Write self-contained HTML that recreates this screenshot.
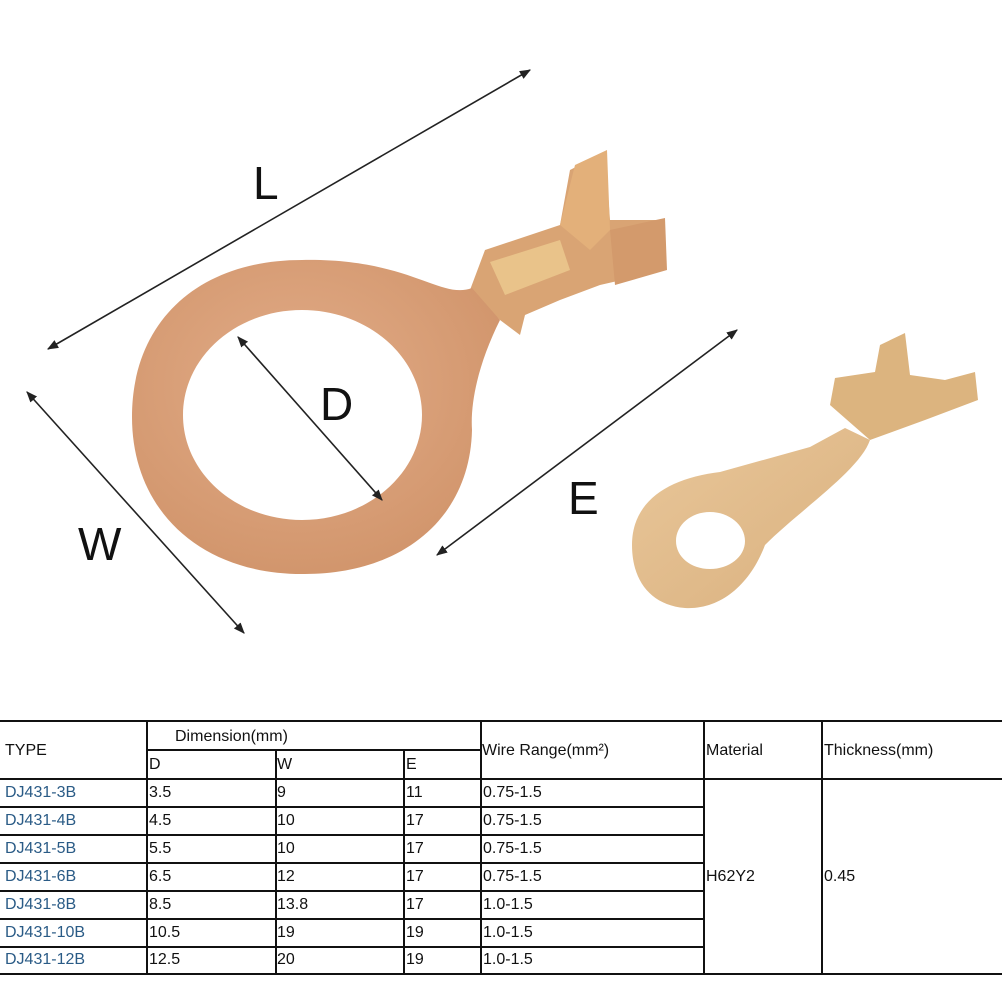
<!DOCTYPE html>
<html><head><meta charset="utf-8"><style>
body{margin:0;width:1002px;height:1002px;background:#fff;overflow:hidden;position:relative;font-family:"Liberation Sans","DejaVu Sans",sans-serif}
svg{position:absolute;left:0;top:0}
.t{position:absolute;font-size:16px;color:#111;white-space:nowrap}
.b{color:#2a5b86}
</style></head><body>
<svg width="1002" height="1002" viewBox="0 0 1002 1002">
<defs>
<marker id="a" viewBox="0 0 10 10" refX="9" refY="5" markerWidth="7" markerHeight="7" orient="auto-start-reverse"><path d="M0,1 L10,5 L0,9 Z" fill="#222"/></marker>
<radialGradient id="g1" cx="45%" cy="40%" r="70%"><stop offset="0" stop-color="#e2ac88"/><stop offset="1" stop-color="#cf9268"/></radialGradient>
<linearGradient id="g2" x1="0" y1="0" x2="1" y2="1"><stop offset="0" stop-color="#e9c79a"/><stop offset="1" stop-color="#d9b07e"/></linearGradient>
</defs>
<!-- big crimp -->
<path d="M470,290 L485,250 L560,225 L570,170 L605,152 L610,220 L665,220 L665,270 L600,285 L560,300 L525,315 L520,335 L500,320 Z" fill="#d9a474"/>
<path d="M560,225 L575,165 L607,150 L610,230 L590,250 Z" fill="#e3b07a"/>
<path d="M610,230 L665,218 L667,270 L615,285 Z" fill="#d39a6c"/>
<path d="M490,262 L560,240 L570,270 L505,295 Z" fill="#e9c38a"/>
<!-- big ring -->
<path fill-rule="evenodd" fill="url(#g1)" d="M302,260 C410,258 440,300 472,288 L500,320 C480,360 470,400 472,430 C470,520 400,575 302,574 C200,574 132,510 132,417 C132,320 200,260 302,260 Z M302,310 C236,310 183,357 183,415 C183,473 236,520 302,520 C368,520 422,473 422,415 C422,357 368,310 302,310 Z"/>
<!-- small crimp -->
<path d="M830,405 L835,378 L875,372 L880,345 L905,333 L910,375 L945,380 L975,372 L978,400 L925,420 L870,440 Z" fill="#dcb47f"/>
<!-- small ring -->
<path fill-rule="evenodd" fill="url(#g2)" d="M632,545 C632,500 670,478 720,472 L810,447 L845,428 L870,440 C860,470 800,510 765,545 C750,585 720,610 685,608 C650,605 632,580 632,545 Z M710,512 C691,512 676,525 676,541 C676,557 691,569 710,569 C729,569 745,557 745,541 C745,525 729,512 710,512 Z"/>
<!-- dimension lines -->
<g stroke="#222" stroke-width="1.6" fill="none">
<line x1="48" y1="349" x2="530" y2="70" marker-start="url(#a)" marker-end="url(#a)"/>
<line x1="27" y1="392" x2="244" y2="633" marker-start="url(#a)" marker-end="url(#a)"/>
<line x1="238" y1="337" x2="382" y2="500" marker-start="url(#a)" marker-end="url(#a)"/>
<line x1="437" y1="555" x2="737" y2="330" marker-start="url(#a)" marker-end="url(#a)"/>
</g>
<g font-family="Liberation Sans,sans-serif" font-size="46" fill="#111">
<text x="253" y="199">L</text>
<text x="320" y="420">D</text>
<text x="78" y="560">W</text>
<text x="568" y="514">E</text>
</g>
<!-- table -->
<g stroke="#111" stroke-width="2">
<line x1="0" y1="721" x2="1002" y2="721"/>
<line x1="0" y1="779" x2="1002" y2="779"/>
<line x1="147" y1="750" x2="481" y2="750"/>
<line x1="0" y1="807" x2="704" y2="807"/>
<line x1="0" y1="835" x2="704" y2="835"/>
<line x1="0" y1="863" x2="704" y2="863"/>
<line x1="0" y1="891" x2="704" y2="891"/>
<line x1="0" y1="919" x2="704" y2="919"/>
<line x1="0" y1="947" x2="704" y2="947"/>
<line x1="0" y1="974" x2="1002" y2="974"/>
<line x1="147" y1="721" x2="147" y2="974"/>
<line x1="276" y1="750" x2="276" y2="974"/>
<line x1="404" y1="750" x2="404" y2="974"/>
<line x1="481" y1="721" x2="481" y2="974"/>
<line x1="704" y1="721" x2="704" y2="974"/>
<line x1="822" y1="721" x2="822" y2="974"/>
</g>
</svg>
<div class="t" style="left:5px;top:742px">TYPE</div>
<div class="t" style="left:175px;top:728px">Dimension(mm)</div>
<div class="t" style="left:149px;top:756px">D</div>
<div class="t" style="left:277px;top:756px">W</div>
<div class="t" style="left:406px;top:756px">E</div>
<div class="t" style="left:482px;top:742px">Wire Range(mm²)</div>
<div class="t" style="left:706px;top:742px">Material</div>
<div class="t" style="left:824px;top:742px">Thickness(mm)</div>
<div class="t" style="left:706px;top:868px">H62Y2</div>
<div class="t" style="left:824px;top:868px">0.45</div>
<div style="position:absolute;left:0;top:784px">
<div class="t b" style="left:5px;top:0">DJ431-3B</div><div class="t" style="left:149px;top:0">3.5</div><div class="t" style="left:277px;top:0">9</div><div class="t" style="left:406px;top:0">11</div><div class="t" style="left:483px;top:0">0.75-1.5</div>
<div class="t b" style="left:5px;top:28px">DJ431-4B</div><div class="t" style="left:149px;top:28px">4.5</div><div class="t" style="left:277px;top:28px">10</div><div class="t" style="left:406px;top:28px">17</div><div class="t" style="left:483px;top:28px">0.75-1.5</div>
<div class="t b" style="left:5px;top:56px">DJ431-5B</div><div class="t" style="left:149px;top:56px">5.5</div><div class="t" style="left:277px;top:56px">10</div><div class="t" style="left:406px;top:56px">17</div><div class="t" style="left:483px;top:56px">0.75-1.5</div>
<div class="t b" style="left:5px;top:84px">DJ431-6B</div><div class="t" style="left:149px;top:84px">6.5</div><div class="t" style="left:277px;top:84px">12</div><div class="t" style="left:406px;top:84px">17</div><div class="t" style="left:483px;top:84px">0.75-1.5</div>
<div class="t b" style="left:5px;top:112px">DJ431-8B</div><div class="t" style="left:149px;top:112px">8.5</div><div class="t" style="left:277px;top:112px">13.8</div><div class="t" style="left:406px;top:112px">17</div><div class="t" style="left:483px;top:112px">1.0-1.5</div>
<div class="t b" style="left:5px;top:140px">DJ431-10B</div><div class="t" style="left:149px;top:140px">10.5</div><div class="t" style="left:277px;top:140px">19</div><div class="t" style="left:406px;top:140px">19</div><div class="t" style="left:483px;top:140px">1.0-1.5</div>
<div class="t b" style="left:5px;top:167px">DJ431-12B</div><div class="t" style="left:149px;top:167px">12.5</div><div class="t" style="left:277px;top:167px">20</div><div class="t" style="left:406px;top:167px">19</div><div class="t" style="left:483px;top:167px">1.0-1.5</div>
</div>
</body></html>
